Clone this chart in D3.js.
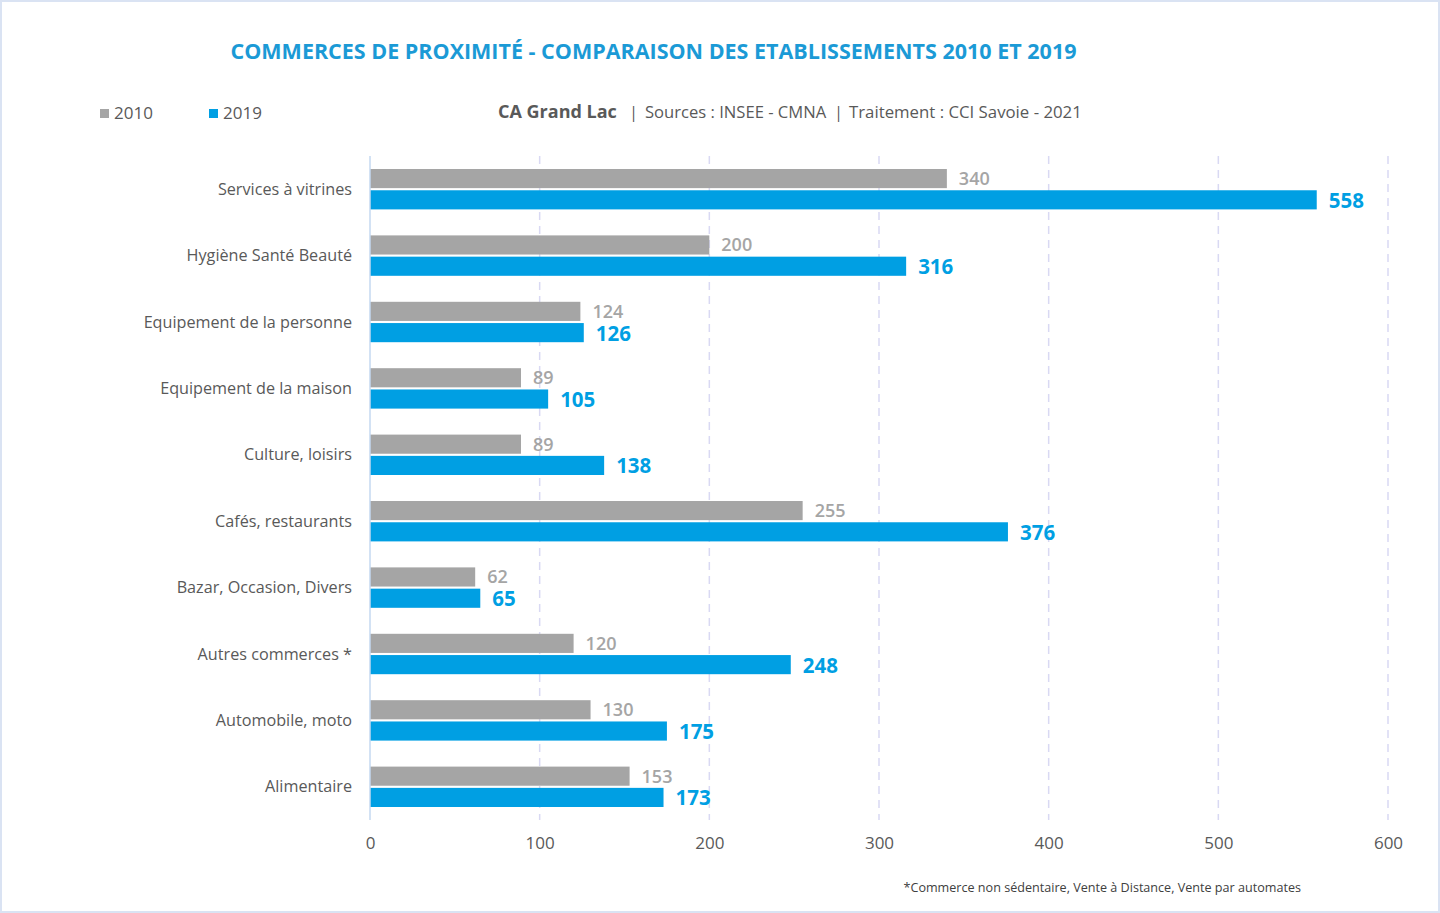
<!DOCTYPE html>
<html><head><meta charset="utf-8">
<script src="https://cdn.jsdelivr.net/npm/d3@7"></script>
<style>
html,body{margin:0;padding:0;background:#fff;}
svg{display:block;}
</style></head>
<body>
<svg id="chart" width="1440" height="913"></svg>
<script>
const categories = ["Services à vitrines","Hygiène Santé Beauté","Equipement de la personne","Equipement de la maison","Culture, loisirs","Cafés, restaurants","Bazar, Occasion, Divers","Autres commerces *","Automobile, moto","Alimentaire"];
const values2010 = [340,200,124,89,89,255,62,120,130,153];
const values2019 = [558,316,126,105,138,376,65,248,175,173];
const seriesNames = ["2010","2019"];
const xTicks = [0,100,200,300,400,500,600];

const W=1440,H=913;
const svg=d3.select("#chart");
const font="'Open Sans', sans-serif";
const gray="#A5A5A5", blue="#009FE3";

svg.append("rect").attr("x",1).attr("y",1).attr("width",W-2).attr("height",H-2)
  .attr("fill","#fff").attr("stroke","#DAE3F3").attr("stroke-width",2);

const x=d3.scaleLinear().domain([0,600]).range([370,1388]);
const y=d3.scaleBand().domain(categories).range([156,820]).paddingInner(0).paddingOuter(0);
const inner=d3.scaleBand().domain(seriesNames).range([13,y.bandwidth()-13]).paddingInner(0.1);

// gridlines
svg.append("g").selectAll("line").data(xTicks.filter(d=>d>0)).join("line")
  .attr("x1",d=>x(d)).attr("x2",d=>x(d)).attr("y1",156).attr("y2",820)
  .attr("stroke","#D9D9F3").attr("stroke-width",1.5).attr("stroke-dasharray","8,6");

// bars
const rows=categories.map((c,i)=>({c,v:[values2010[i],values2019[i]]}));
const g=svg.append("g");
rows.forEach(r=>{
  seriesNames.forEach((s,j)=>{
    const yy=y(r.c)+inner(s);
    g.append("rect").attr("x",x(0)).attr("y",yy).attr("width",x(r.v[j])-x(0)).attr("height",inner.bandwidth())
      .attr("fill",j?blue:gray);
    g.append("text").attr("x",x(r.v[j])+12).attr("y",yy+inner.bandwidth()/2+(j?0.5:0)).attr("dy","0.36em")
      .attr("font-family",font).attr("font-weight",j?700:600).attr("font-size",j?20.5:18)
      .attr("fill",j?blue:gray).text(r.v[j]);
  });
});

// axis line
svg.append("line").attr("x1",x(0)).attr("x2",x(0)).attr("y1",156).attr("y2",820)
  .attr("stroke","#C5D9F1").attr("stroke-width",1.5);

// category labels
svg.append("g").selectAll("text").data(categories).join("text")
  .attr("x",352).attr("y",d=>y(d)+y.bandwidth()/2).attr("dy","0.35em").attr("text-anchor","end")
  .attr("font-family",font).attr("font-size",16.2).attr("fill","#595959").text(d=>d);

// x tick labels
const xAxis=svg.append("g").attr("transform","translate(0,820)")
  .call(d3.axisBottom(x).tickValues(xTicks).tickSize(0).tickPadding(17));
xAxis.select(".domain").remove();
xAxis.selectAll("text").attr("font-family",font).attr("font-size",17).attr("fill","#595959");

// title
svg.append("text").attr("x",653.5).attr("y",51).attr("dy","0.35em").attr("text-anchor","middle")
  .attr("font-family",font).attr("font-weight",700).attr("font-size",21.5).attr("fill","#1B9AD6")
  .text("COMMERCES DE PROXIMITÉ - COMPARAISON DES ETABLISSEMENTS 2010 ET 2019");

// legend
const leg=[{n:"2010",c:gray,x:100},{n:"2019",c:blue,x:209}];
leg.forEach(l=>{
  svg.append("rect").attr("x",l.x).attr("y",109).attr("width",9).attr("height",9).attr("fill",l.c);
  svg.append("text").attr("x",l.x+14).attr("y",113.5).attr("dy","0.35em")
    .attr("font-family",font).attr("font-size",17).attr("fill","#595959").text(l.n);
});

// subtitle pieces
const subParts=[
  {t:"CA Grand Lac",x:498,w:700,s:18},
  {t:"|",x:629,w:400,s:16.5},
  {t:"Sources : INSEE - CMNA",x:645,w:400,s:16.6},
  {t:"|",x:834,w:400,s:16.5},
  {t:"Traitement : CCI Savoie - 2021",x:849,w:400,s:16.8}
];
svg.append("g").selectAll("text").data(subParts).join("text")
  .attr("x",d=>d.x).attr("y",112).attr("dy","0.35em")
  .attr("font-family",font).attr("font-weight",d=>d.w).attr("font-size",d=>d.s).attr("fill","#595959")
  .text(d=>d.t);

// footnote
svg.append("text").attr("x",1301).attr("y",888).attr("dy","0.35em").attr("text-anchor","end")
  .attr("font-family",font).attr("font-size",12.6).attr("fill","#404040")
  .text("*Commerce non sédentaire, Vente à Distance, Vente par automates");
</script>
</body></html>
